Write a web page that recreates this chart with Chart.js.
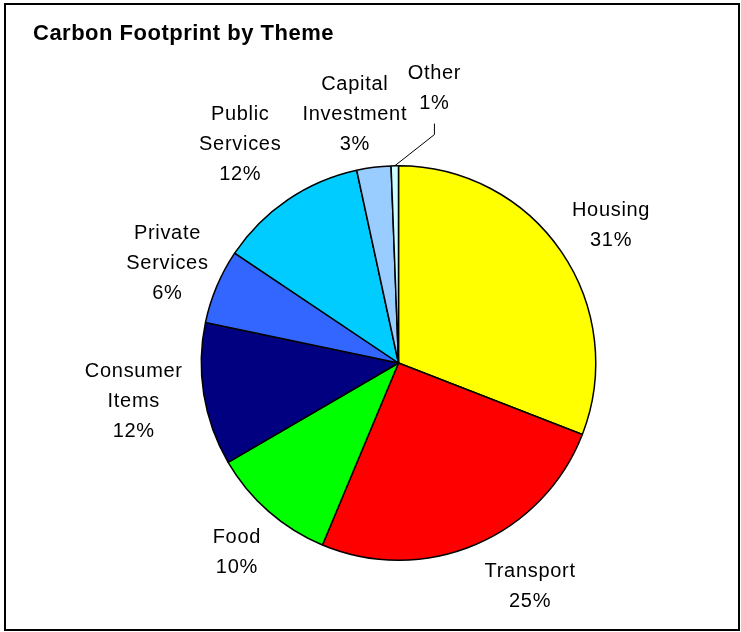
<!DOCTYPE html>
<html>
<head>
<meta charset="utf-8">
<title>Carbon Footprint by Theme</title>
<script src="https://cdn.jsdelivr.net/npm/chart.js@4"></script>
<style>
  html, body { margin: 0; padding: 0; background: #fff; }
  #wrap { width: 741px; height: 632px; position: relative; }
</style>
</head>
<body>
<div id="wrap"><canvas id="pie-chart" width="741" height="632"></canvas></div>
<script>
const themes = [
    ['Housing'],
    ['Transport'],
    ['Food'],
    ['Consumer', 'Items'],
    ['Private', 'Services'],
    ['Public', 'Services'],
    ['Capital', 'Investment'],
    ['Other']
];
// share of the footprint, percent (labels show these rounded)
const shares = [30.9, 25.4, 10.3, 11.7, 6.1, 12.2, 2.8, 0.6];
const sliceColours = [
    '#ffff00',
    '#ff0000',
    '#00ff00',
    '#000080',
    '#3366ff',
    '#00ccff',
    '#99ccff',
    '#ccffff'
];

// where each label sits: angle shift (deg) and distance past the rim (px)
const labelPlacement = [
    { turn: 1.1, out: 57 },
    { turn: -7.6, out: 61 },
    { turn: -0.6, out: 51 },
    { turn: 1.3, out: 70 },
    { turn: 0.8, out: 55 },
    { turn: -1.5, out: 74 },
    { turn: -2.7, out: 57 },
    { turn: 8.5, out: 81, leader: true }
];

const labelFont = '20px "Liberation Sans", Arial, sans-serif';
const lineHeight = 30;

const frameAndTitle = {
    id: 'frameAndTitle',
    beforeDraw(chart) {
        const c = chart.ctx;
        c.save();
        c.fillStyle = '#fff';
        c.fillRect(0, 0, chart.width, chart.height);
        c.strokeStyle = '#000';
        c.lineWidth = 2;
        c.strokeRect(5, 4, 734, 626);
        c.fillStyle = '#000';
        c.font = 'bold 22px "Liberation Sans", Arial, sans-serif';
        c.letterSpacing = '0.5px';
        c.textBaseline = 'alphabetic';
        c.textAlign = 'left';
        c.fillText('Carbon Footprint by Theme', 33, 40);
        c.restore();
    }
};

const outsideLabels = {
    id: 'outsideLabels',
    afterDatasetsDraw(chart) {
        const c = chart.ctx;
        const arcs = chart.getDatasetMeta(0).data;
        const values = chart.data.datasets[0].data;
        const total = values.reduce((a, b) => a + b, 0);
        c.save();
        c.font = labelFont;
        c.letterSpacing = '0.7px';
        c.fillStyle = '#000';
        c.textAlign = 'center';
        c.textBaseline = 'middle';
        arcs.forEach((arc, i) => {
            const p = arc.getProps(['x', 'y', 'startAngle', 'endAngle', 'outerRadius'], true);
            const place = labelPlacement[i];
            const mid = (p.startAngle + p.endAngle) / 2;
            const a = mid + place.turn * Math.PI / 180;
            const r = p.outerRadius + place.out;
            const cx = p.x + Math.cos(a) * r;
            const cy = p.y + Math.sin(a) * r + 1.5;
            const lines = themes[i].concat([Math.round(values[i] / total * 100) + '%']);
            const top = cy - (lines.length - 1) * lineHeight / 2;
            lines.forEach((t, k) => c.fillText(t, cx, top + k * lineHeight));

            if (place.leader) {
                // elbow line from the rim up to the label
                const ex = p.x + Math.cos(mid) * p.outerRadius;
                const ey = p.y + Math.sin(mid) * p.outerRadius;
                const bottom = top + (lines.length - 1) * lineHeight + 20;
                c.strokeStyle = '#000';
                c.lineWidth = 1;
                c.beginPath();
                c.moveTo(ex, ey);
                c.lineTo(cx, bottom + 11);
                c.lineTo(cx, bottom);
                c.stroke();
            }
        });
        c.restore();
    }
};

new Chart(document.getElementById('pie-chart'), {
    type: 'pie',
    plugins: [frameAndTitle, outsideLabels],
    data: {
        labels: themes.map(t => t.join(' ')),
        datasets: [{
            data: shares,
            backgroundColor: sliceColours,
            borderColor: '#000',
            borderWidth: 1.5,
            borderAlign: 'center'
        }]
    },
    options: {
        responsive: false,
        animation: false,
        events: [],
        layout: {
            padding: { left: 200, right: 144, top: 165, bottom: 71 }
        },
        plugins: {
            legend: { display: false },
            tooltip: { enabled: false },
            title: { display: false }
        }
    }
});
</script>
</body>
</html>
